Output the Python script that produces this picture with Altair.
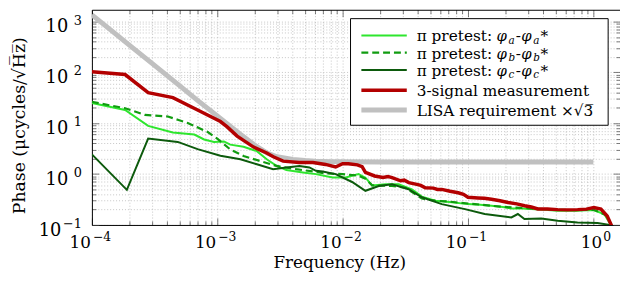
import altair as alt
import pandas as pd

# ---------------- data ----------------
# LISA requirement x sqrt(3)
lisa_f = [1e-4, 1.5e-4, 2e-4, 3e-4, 5e-4, 7e-4, 1e-3, 1.5e-3, 2e-3, 2.5e-3, 3e-3, 4e-3, 5e-3, 6e-3, 8e-3, 1e-2, 2e-2, 1.0]
lisa_v = [1360, 605, 340, 152, 55, 28, 14, 6.3, 3.7, 2.6, 2.2, 1.95, 1.85, 1.8, 1.76, 1.75, 1.73, 1.73]

# 3-signal measurement
red_f = [1e-4, 1.84e-4, 2.81e-4, 4.43e-4, 6.97e-4, 1.06e-3, 1.2e-3, 1.44e-3, 1.95e-3, 2.48e-3,
         2.8e-3, 3.35e-3, 4.5e-3, 5.8e-3, 7.3e-3, 8.8e-3, 1.0e-2, 1.11e-2, 1.31e-2, 1.43e-2,
         1.52e-2, 1.8e-2, 2.1e-2, 2.3e-2, 2.48e-2, 2.9e-2, 3.1e-2, 3.37e-2, 3.9e-2, 4.2e-2,
         4.56e-2, 5.3e-2, 5.7e-2, 6.18e-2, 7.2e-2, 8.35e-2, 9.2e-2, 0.1, 0.12, 0.135,
         0.154, 0.18, 0.209, 0.245, 0.283, 0.32, 0.361, 0.43, 0.52, 0.62,
         0.75, 0.88, 1.01, 1.15, 1.29, 1.39, 1.45]
red_v = [103, 91, 40, 32, 18.3, 10.8, 8.5, 5.6, 3.4, 2.6,
         2.2, 1.8, 1.69, 1.69, 1.55, 1.38, 1.6, 1.6, 1.52, 1.4,
         1.08, 0.92, 0.86, 0.9, 0.85, 0.74, 0.76, 0.68, 0.63, 0.6,
         0.54, 0.53, 0.5, 0.5, 0.46, 0.43, 0.4, 0.35, 0.34, 0.335,
         0.32, 0.3, 0.276, 0.26, 0.239, 0.225, 0.206, 0.205, 0.2, 0.198,
         0.2, 0.205, 0.22, 0.205, 0.15, 0.1, 0.06]

# pi pretest: phi_a - phi_a*
a_f = [1e-4, 1.84e-4, 2.81e-4, 4.42e-4, 6.56e-4, 7.86e-4, 9.42e-4, 1.13e-3, 1.27e-3, 1.62e-3,
       2.07e-3, 2.48e-3, 2.97e-3, 3.56e-3, 4.82e-3, 6.13e-3, 8.3e-3, 1.06e-2, 1.34e-2, 1.52e-2,
       1.72e-2, 2.2e-2, 2.8e-2, 3.57e-2, 4.29e-2, 5.47e-2, 6.4e-2, 7.42e-2, 0.1, 0.125,
       0.154, 0.19, 0.222, 0.27, 0.319, 0.41, 0.52, 0.62, 0.75, 0.88, 1.01, 1.22, 1.38, 1.45]
a_v = [25, 18.3, 8.9, 6.6, 6.0, 4.8, 4.3, 4.4, 3.8, 3.45,
       2.83, 1.96, 1.45, 1.2, 1.08, 1.0, 0.86, 0.86, 1.0, 0.85,
       0.6, 0.63, 0.63, 0.5, 0.36, 0.3, 0.29, 0.28, 0.257, 0.25,
       0.238, 0.225, 0.211, 0.21, 0.205, 0.198, 0.19, 0.192, 0.19, 0.196, 0.195, 0.164, 0.0995, 0.07]

# pi pretest: phi_b - phi_b*
b_f = [1e-4, 1.84e-4, 2.65e-4, 4.04e-4, 4.84e-4, 5.81e-4, 8.34e-4, 1.0e-3, 1.27e-3, 1.62e-3,
       2.19e-3, 2.97e-3, 4.26e-3, 5.77e-3, 7.35e-3, 9.95e-3, 1.34e-2, 1.52e-2, 1.72e-2, 2.48e-2,
       3.16e-2, 4.29e-2, 5.47e-2, 6.8e-2, 8.37e-2, 0.1135, 0.154, 0.222, 0.319, 0.42,
       0.52, 0.75, 1.01, 1.29, 1.39, 1.45]
b_v = [26.5, 19.7, 14.6, 13.6, 11.7, 10.1, 6.8, 5.0, 3.06, 2.27,
       1.81, 1.45, 1.25, 1.13, 1.03, 1.0, 0.93, 0.81, 0.6, 0.585,
       0.54, 0.33, 0.3, 0.29, 0.276, 0.257, 0.238, 0.221, 0.211, 0.205,
       0.199, 0.195, 0.199, 0.152, 0.0995, 0.07]

# pi pretest: phi_c - phi_c*
c_f = [1e-4, 1.9e-4, 2.81e-4, 4.84e-4, 6.97e-4, 1.06e-3, 1.53e-3, 2.07e-3, 2.79e-3, 3.56e-3,
       4.53e-3, 5.43e-3, 6.13e-3, 6.92e-3, 8.81e-3, 9.4e-3, 1.19e-2, 1.52e-2, 1.94e-2, 2.48e-2,
       3.36e-2, 4.29e-2, 6.18e-2, 9.46e-2, 0.136, 0.222, 0.25, 0.282, 0.384, 0.52,
       0.748, 1.08, 1.38, 1.45]
c_v = [2.44, 0.49, 5.0, 4.3, 3.1, 2.3, 1.96, 1.56, 1.25, 1.35,
       1.45, 1.35, 1.16, 1.13, 1.0, 0.92, 0.7, 0.47, 0.585, 0.63,
       0.505, 0.35, 0.257, 0.205, 0.164, 0.141, 0.164, 0.131, 0.134, 0.121,
       0.112, 0.109, 0.0995, 0.08]

X_MAJOR = [1e-4, 1e-3, 1e-2, 1e-1, 1.0]
Y_MAJOR = [0.1, 1.0, 10.0, 100.0, 1000.0]
X_EXPONENTS = ["−4", "−3", "−2", "−1", "0"]
Y_EXPONENTS = ["−1", "0", "1", "2", "3"]
TICK_BASE = "10"
X_DOMAIN = [1e-4, 1.632]
Y_DOMAIN = [0.1, 1710]
X_TITLE = "Frequency (Hz)"
Y_TITLE = "Phase (μcycles/√H̅z̅)"

LEGEND_SUBS = ["a", "b", "c"]
LEGEND_TEXT = ["π pretest:", "3-signal measurement", "LISA requirement ×√3̅"]

# ---------------- styles ----------------
FONT = "DejaVu Serif"
C_A, C_B, C_C = "#2ee62e", "#109c10", "#0c5a0c"
C_RED, C_GRAY = "#b30000", "#c0c0c0"
W, H = 535, 218

x_minor = [k * m for m in X_MAJOR for k in range(2, 10) if k * m <= X_DOMAIN[1]]
y_minor = [k * m for m in Y_MAJOR for k in range(2, 10) if k * m <= Y_DOMAIN[1]]
x_all = sorted(X_MAJOR + x_minor)
y_all = sorted(Y_MAJOR + y_minor)

xs = alt.Scale(type="log", domain=X_DOMAIN, nice=False)
ys = alt.Scale(type="log", domain=Y_DOMAIN, nice=False)


def grid_axis(orient, values):
    return alt.Axis(orient=orient, values=values, grid=True, gridColor="#b8b8b8",
                    gridDash=[1, 2], gridWidth=0.8, labels=False, ticks=False,
                    domain=False, title=None)


def tick_axis(orient, values, size):
    return alt.Axis(orient=orient, values=values, offset=-size, tickSize=size,
                    tickColor="#444444", tickWidth=0.7, labels=False, domain=False,
                    grid=False, title=None)


def series(f, v, color, width, xaxis, yaxis, dash=None, opacity=1.0):
    df = pd.DataFrame({"f": f, "v": v})
    kw = dict(color=color, strokeWidth=width, clip=True, opacity=opacity)
    if dash:
        kw["strokeDash"] = dash
    return alt.Chart(df).mark_line(**kw).encode(
        x=alt.X("f:Q", scale=xs, axis=xaxis),
        y=alt.Y("v:Q", scale=ys, axis=yaxis),
    )


x_main = alt.Axis(orient="bottom", values=X_MAJOR, labels=False, ticks=False, domain=True,
                  domainColor="black", domainWidth=1, grid=False, title=X_TITLE,
                  titleFont=FONT, titleFontSize=17, titleFontWeight="normal",
                  titleColor="black", titleX=250.5, titleY=38, titleBaseline="middle",
                  titleAlign="center")
y_main = alt.Axis(orient="left", values=Y_MAJOR, labels=False, ticks=False, domain=True,
                  domainColor="black", domainWidth=1, grid=False, title=Y_TITLE,
                  titleFont=FONT, titleFontSize=17.5, titleFontWeight="normal",
                  titleColor="black", titleX=-73, titleY=117, titleBaseline="middle",
                  titleAlign="center")
x_top = alt.Axis(orient="top", values=X_MAJOR, labels=False, ticks=False, domain=True,
                 domainColor="black", domainWidth=1, grid=False, title=None)

layers = [
    series(lisa_f, lisa_v, C_GRAY, 5, grid_axis("bottom", x_all), grid_axis("left", y_all)),
    series(a_f, a_v, C_A, 2, tick_axis("bottom", x_minor, 4), tick_axis("left", y_minor, 4)),
    series(b_f, b_v, C_B, 2.2, tick_axis("bottom", X_MAJOR, 7), tick_axis("left", Y_MAJOR, 7), dash=[7, 4]),
    series(c_f, c_v, C_C, 2, tick_axis("top", X_MAJOR, 7), tick_axis("right", Y_MAJOR, 7)),
    series(red_f, red_v, C_RED, 3.5, tick_axis("top", x_minor, 4), tick_axis("right", y_minor, 4)),
    series(lisa_f, lisa_v, C_GRAY, 1, x_main, y_main, opacity=0),
    series(lisa_f, lisa_v, C_GRAY, 1, x_top, None, opacity=0),
]

# ---------------- tick labels: "10" with a raised exponent ----------------
xl = pd.DataFrame({"f": X_MAJOR, "base": [TICK_BASE] * len(X_MAJOR), "exp": X_EXPONENTS})
yl = pd.DataFrame({"v": Y_MAJOR, "base": [TICK_BASE] * len(Y_MAJOR), "exp": Y_EXPONENTS})
xl_neg, xl_pos = xl[xl["f"] < 0.5], xl[xl["f"] > 0.5]
yl_neg, yl_pos = yl[yl["v"] < 0.5], yl[yl["v"] > 0.5]


def xlab(df, dxb, dxe):
    xe = alt.X("f:Q", scale=xs, axis=None)
    base = alt.Chart(df).mark_text(font=FONT, fontSize=17, align="right", baseline="alphabetic",
                                   dx=dxb, color="black").encode(x=xe, y=alt.value(H + 23), text="base:N")
    expo = alt.Chart(df).mark_text(font=FONT, fontSize=12.5, align="left", baseline="alphabetic",
                                   dx=dxe, color="black").encode(x=xe, y=alt.value(H + 16), text="exp:N")
    return [base, expo]


def ylab(df, xb):
    ye = alt.Y("v:Q", scale=ys, axis=None)
    base = alt.Chart(df).mark_text(font=FONT, fontSize=18, align="right", baseline="alphabetic",
                                   dy=11, color="black").encode(x=alt.value(xb), y=ye, text="base:N")
    expo = alt.Chart(df).mark_text(font=FONT, fontSize=13, align="right", baseline="alphabetic",
                                   dy=3, color="black").encode(x=alt.value(-10), y=ye, text="exp:N")
    return [base, expo]


layers += xlab(xl_neg, -1, 1) + xlab(xl_pos, 9, 10)
layers += ylab(yl_neg, -31) + ylab(yl_pos, -24)

# ---------------- legend (drawn inside the plot area) ----------------
one = pd.DataFrame({"k": [0]})
BOX = dict(x0=262, x1=523, y0=9, y1=117)
ROWS_Y = [26, 43.5, 61, 81.5, 101.5]
SW_X0, SW_X1, TX = 273, 319, 329
swatches = [(C_A, 2, None), (C_B, 2.2, [7, 4]), (C_C, 2, None), (C_RED, 3.5, None), (C_GRAY, 5, None)]

layers.append(alt.Chart(one).mark_rect(fill="white", stroke="black", strokeWidth=1).encode(
    x=alt.value(BOX["x0"]), x2=alt.value(BOX["x1"]), y=alt.value(BOX["y0"]), y2=alt.value(BOX["y1"])))
for (col, wd, dash), ry in zip(swatches, ROWS_Y):
    kw = dict(color=col, strokeWidth=wd)
    if dash:
        kw["strokeDash"] = dash
    layers.append(alt.Chart(one).mark_rule(**kw).encode(
        x=alt.value(SW_X0), x2=alt.value(SW_X1), y=alt.value(ry)))


def txt(s, x, y, size=15.5, style="normal"):
    return alt.Chart(one).mark_text(text=s, font=FONT, fontSize=size, fontStyle=style,
                                    align="left", baseline="alphabetic", color="black").encode(
        x=alt.value(x), y=alt.value(y))


for sub, ry in zip(LEGEND_SUBS, ROWS_Y[:3]):
    by = ry + 6
    layers += [
        txt(LEGEND_TEXT[0], TX, by),
        txt("φ", 410, by, size=15, style="italic"),
        txt(sub, 422, by + 2.5, size=10.5, style="italic"),
        txt("-", 429.5, by),
        txt("φ", 435, by, size=15, style="italic"),
        txt(sub, 447, by + 2.5, size=10.5, style="italic"),
        txt("*", 454.5, by),
    ]
layers.append(txt(LEGEND_TEXT[1], TX, ROWS_Y[3] + 6))
layers.append(txt(LEGEND_TEXT[2], TX, ROWS_Y[4] + 6))

chart = alt.layer(*layers).resolve_axis(x="independent", y="independent").properties(
    width=W, height=H,
    autosize=alt.AutoSizeParams(type="none"),
    padding={"left": 85, "top": 0, "right": 0, "bottom": 55},
).configure_view(stroke=None)

chart.save("out.html", embed_options={"renderer": "svg", "actions": False})
